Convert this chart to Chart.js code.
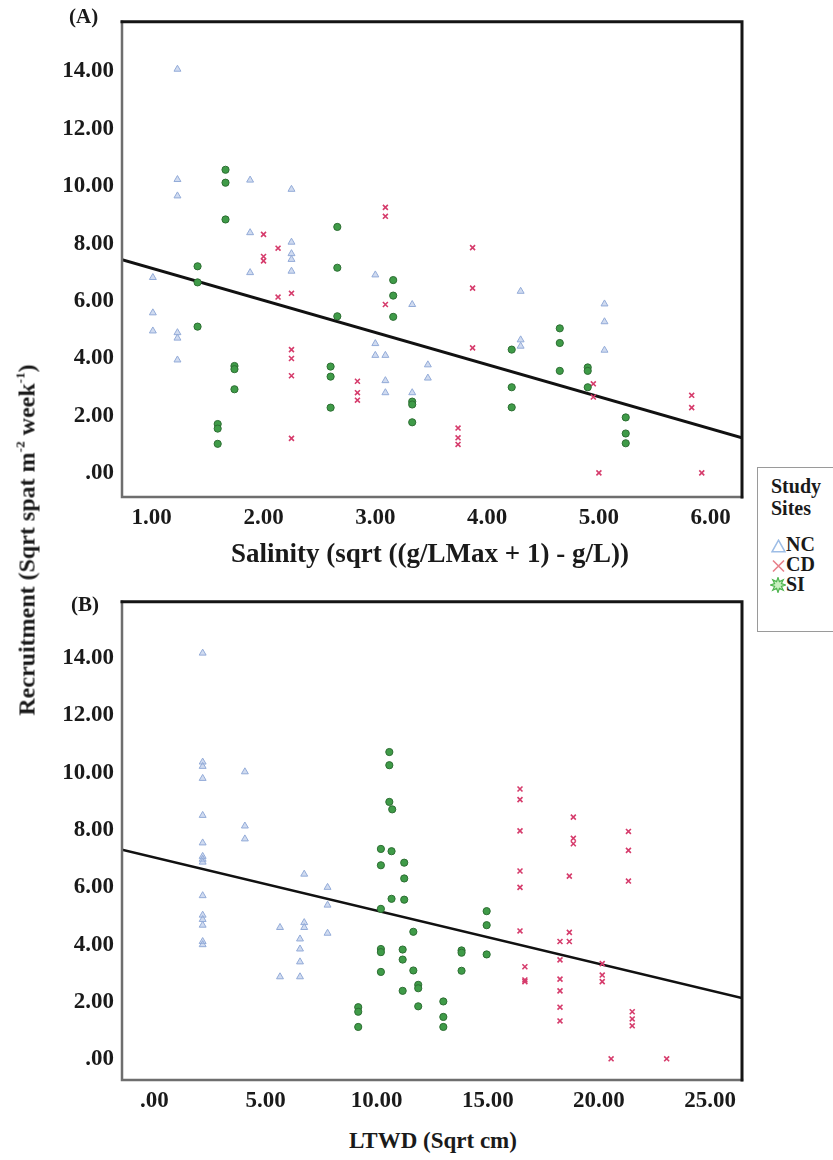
<!DOCTYPE html>
<html>
<head>
<meta charset="utf-8">
<script src="https://cdn.jsdelivr.net/npm/chart.js@4.4.1/dist/chart.umd.min.js"></script>
<style>
  html,body{margin:0;padding:0;background:#fff;}
  body{width:833px;height:1160px;position:relative;overflow:hidden;font-family:'Liberation Serif','Times New Roman',serif;color:#1a1a1a;}
  .wrap{position:absolute;left:0;width:760px;height:540px;}
  .txt{position:absolute;white-space:nowrap;font-weight:bold;}
  sup{font-size:0.55em;vertical-align:0.75em;line-height:0;}
  #legend{position:absolute;left:757px;top:467px;width:90px;height:165px;border:1px solid #9a9a9a;box-sizing:border-box;background:#fff;}
  .lg{position:absolute;left:13px;font-weight:bold;font-size:20px;white-space:nowrap;line-height:20px;}
  .lg svg{vertical-align:-2px;margin-right:0px;}
</style>
</head>
<body>
<div class="wrap" style="top:0px"><canvas id="chartA"></canvas></div>
<div class="wrap" style="top:580px"><canvas id="chartB"></canvas></div>

<div class="txt" style="left:69px;top:4px;font-size:21px;">(A)</div>
<div class="txt" style="left:71px;top:592px;font-size:21px;">(B)</div>
<div class="txt" style="left:430px;top:553px;font-size:27px;transform:translate(-50%,-50%);">Salinity (sqrt ((g/LMax + 1) - g/L))</div>
<div class="txt" style="left:433px;top:1141px;font-size:23px;transform:translate(-50%,-50%);">LTWD (Sqrt cm)</div>
<div class="txt" style="left:27px;top:540px;font-size:24px;transform:translate(-50%,-50%) rotate(-90deg);">Recruitment (Sqrt spat m<sup>-2</sup> week<sup>-1</sup>)</div>

<div id="legend">
  <div class="lg" style="top:8px;">Study</div>
  <div class="lg" style="top:30px;">Sites</div>
  <div class="lg" style="top:66px;left:13px;"><svg width="15" height="14" viewBox="0 0 15 14"><polygon points="7.5,1.2 14,12.8 1,12.8" fill="none" stroke="#9dbde6" stroke-width="1.5"/></svg>NC</div>
  <div class="lg" style="top:86px;left:13px;"><svg width="15" height="14" viewBox="0 0 15 14"><path d="M2,1.5 L13,12.5 M13,1.5 L2,12.5" stroke="#e8808a" stroke-width="1.6"/></svg>CD</div>
  <div class="lg" style="top:106px;left:12px;"><svg width="16" height="16" viewBox="0 0 16 16"><polygon points="8,0.5 9.4,4.6 13.3,2.7 11.4,6.6 15.5,8 11.4,9.4 13.3,13.3 9.4,11.4 8,15.5 6.6,11.4 2.7,13.3 4.6,9.4 0.5,8 4.6,6.6 2.7,2.7 6.6,4.6" fill="#c8f0c0" stroke="#4fb54f" stroke-width="1.2"/></svg>SI</div>
</div>

<script>
// ---------- DATA ----------
// Tick values and labels
const salTicks = [1, 2, 3, 4, 5, 6];
const salTickLabels = ['1.00', '2.00', '3.00', '4.00', '5.00', '6.00'];
const ltwdTicks = [0, 5, 10, 15, 20, 25];
const ltwdTickLabels = ['.00', '5.00', '10.00', '15.00', '20.00', '25.00'];
const recTicks = [0, 2, 4, 6, 8, 10, 12, 14];
const recTickLabels = ['.00', '2.00', '4.00', '6.00', '8.00', '10.00', '12.00', '14.00'];

// Panel A: Salinity vs Recruitment
const salNC_x = [1.01,1.01,1.01,1.23,1.23,1.23,1.23,1.23,1.23,1.88,1.88,1.88,2.25,2.25,2.25,2.25,2.25,3.00,3.00,3.00,3.09,3.09,3.09,3.33,3.33,3.47,3.47,4.30,4.30,4.30,5.05,5.05,5.05];
const salNC_y = [6.82,5.59,4.96,14.07,10.23,9.66,4.90,4.71,3.95,10.21,8.38,6.99,9.89,8.05,7.65,7.45,7.04,6.91,4.52,4.11,4.11,3.23,2.81,5.88,2.81,3.78,3.32,6.34,4.65,4.43,5.90,5.28,4.29];
const salCD_x = [2.00,2.00,2.00,2.13,2.13,2.25,2.25,2.25,2.25,2.25,2.84,2.84,2.84,3.09,3.09,3.09,3.74,3.74,3.74,3.87,3.87,3.87,4.95,4.95,5.00,5.83,5.83,5.92];
const salCD_y = [8.32,7.55,7.40,7.84,6.14,6.27,4.31,4.00,3.40,1.22,3.21,2.81,2.55,9.26,8.95,5.88,1.58,1.24,1.01,7.86,6.45,4.37,3.12,2.66,0.02,2.72,2.29,0.02];
const salSI_x = [1.41,1.41,1.41,1.59,1.59,1.59,1.66,1.66,1.66,1.74,1.74,1.74,2.60,2.60,2.60,2.66,2.66,2.66,3.16,3.16,3.16,3.33,3.33,3.33,4.22,4.22,4.22,4.65,4.65,4.65,4.90,4.90,4.90,5.24,5.24,5.24];
const salSI_y = [7.21,6.65,5.11,1.72,1.56,1.03,10.57,10.12,8.84,3.74,3.63,2.93,3.72,3.37,2.29,8.58,7.16,5.47,6.73,6.19,5.45,2.50,2.40,1.78,4.31,3.00,2.30,5.05,4.54,3.57,3.69,3.57,3.00,1.95,1.39,1.05];

// Panel B: LTWD vs Recruitment
const ltwdNC_x = [2.17,2.17,2.17,2.17,2.17,2.17,2.17,2.17,2.17,2.17,2.17,2.17,2.17,2.17,2.17,4.07,4.07,4.07,5.65,5.65,6.74,6.74,6.74,6.55,6.55,6.55,6.55,7.79,7.79,7.79];
const ltwdNC_y = [14.17,10.37,10.22,9.80,8.51,7.55,7.08,6.98,6.88,5.71,5.03,4.88,4.68,4.11,4.00,10.03,8.14,7.69,4.60,2.88,6.46,4.77,4.60,4.20,3.85,3.40,2.88,6.00,5.38,4.40];
const ltwdCD_x = [16.45,16.45,16.45,16.45,16.45,16.45,16.67,16.67,16.67,18.25,18.25,18.25,18.25,18.25,18.25,18.67,18.67,18.67,18.85,18.85,18.85,20.15,20.15,20.15,20.55,21.33,21.33,21.33,21.50,21.50,21.50,23.05];
const ltwdCD_y = [9.43,9.06,7.97,6.57,6.00,4.48,3.23,2.77,2.71,4.11,3.47,2.80,2.39,1.82,1.34,6.39,4.43,4.11,8.45,7.71,7.52,3.34,2.94,2.71,0.02,7.95,7.29,6.22,1.66,1.41,1.17,0.02];
const ltwdSI_x = [9.17,9.17,9.17,10.19,10.19,10.19,10.19,10.19,10.19,10.57,10.57,10.57,10.70,10.67,10.67,11.24,11.24,11.24,11.17,11.17,11.17,11.65,11.65,11.87,11.87,11.87,13.00,13.00,13.00,13.82,13.82,13.82,14.95,14.95,14.95];
const ltwdSI_y = [1.82,1.66,1.13,7.34,6.77,5.25,3.85,3.74,3.05,10.72,10.26,8.98,8.72,7.26,5.60,6.86,6.31,5.57,3.83,3.48,2.39,4.45,3.10,2.60,2.48,1.85,2.02,1.48,1.13,3.80,3.72,3.09,5.17,4.68,3.66];

// Linear fit lines (panel A, panel B)
const fitIntercepts = [8.26, 7.04];
const fitSlopes = [-1.118, -0.1853];

// ---------- RENDERING ----------
const FONT = "'Liberation Serif','Times New Roman',serif";
const zip = (xs, ys) => xs.map((x, i) => ({x: x, y: ys[i]}));

const framePlugin = {
  id: 'frame',
  afterDatasetsDraw(chart) {
    const {ctx, chartArea: a} = chart;
    ctx.save();
    ctx.lineCap = 'square';
    ctx.strokeStyle = '#6e6e6e';
    ctx.lineWidth = 2.5;
    ctx.beginPath();
    ctx.moveTo(a.left, a.top); ctx.lineTo(a.left, a.bottom); ctx.lineTo(a.right, a.bottom);
    ctx.stroke();
    ctx.strokeStyle = '#151515';
    ctx.lineWidth = 3;
    ctx.beginPath();
    ctx.moveTo(a.left, a.top); ctx.lineTo(a.right, a.top); ctx.lineTo(a.right, a.bottom);
    ctx.stroke();
    ctx.restore();
  }
};

function makeChart(id, p) {
  const xmin = p.xRange[0], xmax = p.xRange[1];
  const fit = [
    {x: xmin, y: fitIntercepts[p.fit] + fitSlopes[p.fit] * xmin},
    {x: xmax, y: fitIntercepts[p.fit] + fitSlopes[p.fit] * xmax}
  ];
  const tickFont = {family: FONT, size: 23, weight: 'bold'};
  return new Chart(document.getElementById(id), {
    type: 'scatter',
    data: {
      datasets: [
        {type: 'line', label: 'Fit', data: fit, borderColor: '#111', borderWidth: p.lineW,
         pointRadius: 0, fill: false, tension: 0, order: 4},
        {label: 'NC', data: zip(p.nc[0], p.nc[1]), pointStyle: 'triangle', pointRadius: 4,
         borderColor: '#93abd8', backgroundColor: 'rgba(170,190,228,0.55)', borderWidth: 1, order: 3},
        {label: 'CD', data: zip(p.cd[0], p.cd[1]), pointStyle: 'crossRot', pointRadius: 3.5,
         borderColor: '#d63c6c', backgroundColor: '#d63c6c', borderWidth: 1.6, order: 2},
        {label: 'SI', data: zip(p.si[0], p.si[1]), pointStyle: 'circle', pointRadius: 3.6,
         borderColor: '#2d6e33', backgroundColor: '#3f9b48', borderWidth: 1, order: 1}
      ]
    },
    options: {
      responsive: true, maintainAspectRatio: false, animation: false, devicePixelRatio: 1,
      layout: {padding: {top: p.padTop, right: 18, left: 0, bottom: 0}},
      plugins: {legend: {display: false}, tooltip: {enabled: false}},
      scales: {
        x: {
          type: 'linear', min: xmin, max: xmax,
          grid: {display: false, drawTicks: false}, border: {display: false},
          ticks: {font: tickFont, color: '#1a1a1a', padding: 7, maxRotation: 0, autoSkip: false,
                  callback: (v, i) => p.xLabels[i]},
          afterBuildTicks: s => { s.ticks = p.xTicks.map(v => ({value: v})); },
          afterFit: s => { s.height = p.xAxisH; }
        },
        y: {
          type: 'linear', min: p.yRange[0], max: p.yRange[1],
          grid: {display: false, drawTicks: false}, border: {display: false},
          ticks: {font: tickFont, color: '#1a1a1a', padding: 8, autoSkip: false,
                  callback: (v, i) => recTickLabels[i]},
          afterBuildTicks: s => { s.ticks = recTicks.map(v => ({value: v})); },
          afterFit: s => { s.width = 122; }
        }
      }
    },
    plugins: [framePlugin]
  });
}

makeChart('chartA', {
  nc: [salNC_x, salNC_y], cd: [salCD_x, salCD_y], si: [salSI_x, salSI_y],
  xRange: [0.734, 6.28], yRange: [-0.82, 15.72],
  xTicks: salTicks, xLabels: salTickLabels, fit: 0, lineW: 3,
  padTop: 13, xAxisH: 43
});
makeChart('chartB', {
  nc: [ltwdNC_x, ltwdNC_y], cd: [ltwdCD_x, ltwdCD_y], si: [ltwdSI_x, ltwdSI_y],
  xRange: [-1.46, 26.44], yRange: [-0.72, 15.96],
  xTicks: ltwdTicks, xLabels: ltwdTickLabels, fit: 1, lineW: 2.6,
  padTop: 14, xAxisH: 40
});
</script>
</body>
</html>
